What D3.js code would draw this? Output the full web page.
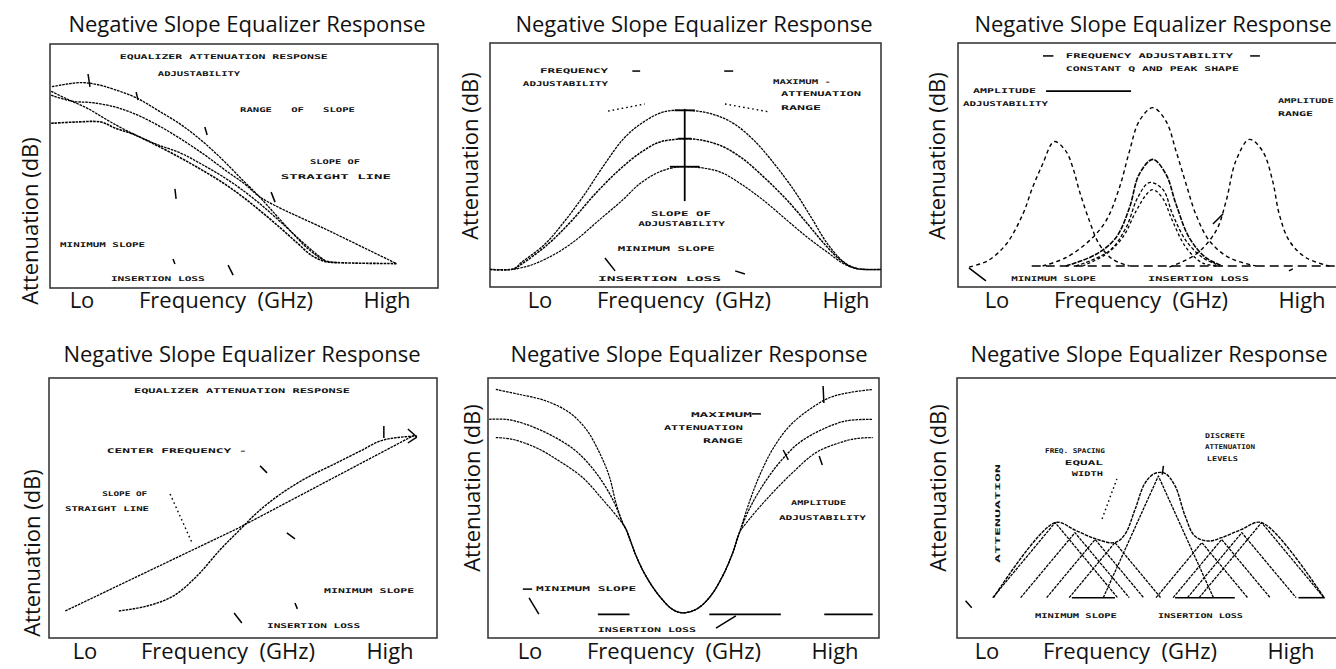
<!DOCTYPE html>
<html>
<head>
<meta charset="utf-8">
<script src="https://cdn.jsdelivr.net/npm/d3@7"></script>
<style>
  html, body { margin: 0; padding: 0; background: #fff; }
  svg { display: block; }
</style>
</head>
<body>
<svg id="chart" width="1336" height="669"></svg>
<script>
// ---------- shared labels ----------
const titleText = "Negative Slope Equalizer Response";
const yAxisText = "Attenuation (dB)";
const xAxisTexts = ["Lo", "Frequency\u00a0 (GHz)", "High"];

// All series use a relative frequency axis (0 = Lo, 100 = High)
// and relative attenuation (0 = bottom of plot, 100 = top).

// ---------- panel 1: sloped responses ----------
const p1CurveA = [[0.5,82.5],[8,84.2],[12.4,83.3],[16.7,81.3],[22.3,77.9],[27.8,72.8],[33.8,66.9],[39,60.5],[44.2,53],[49.3,44.8],[53.6,38],[57.9,30.5],[62.2,23],[66.5,16.1],[70.8,11.3],[74.2,10.4]];
const p1CurveB = [[0.3,79],[5.9,76.5],[10.7,76],[16.7,74.2],[21.8,71.4],[27.8,66.7],[33.8,61],[39.9,54.5],[45,48.5],[50.2,42.6],[54.5,36.9],[72.5,23],[89.3,10]];
const p1CurveC = [[0.3,67.5],[6.4,68],[13.2,68],[16.7,65.6],[21.8,62.8],[27.8,58.2],[33.8,53.2],[39,48.5],[44.2,43.5],[49.3,37.8],[54.5,31.2],[59.6,24.3],[63.9,18.2],[67.4,13.4],[70.8,10.9],[74.2,10.4],[89.3,10]];
const p1CurveD = [[0.3,80.6],[4.6,77.3],[9.8,73.5],[14.9,68.7],[20.1,64.2],[27,59.2],[33.8,55.2],[39,50.8],[44.2,46],[49.3,40.5],[54.5,34],[59.6,26.8],[64.8,19.2],[68.2,14.5],[70.8,11.3]];
const p1Notes = [
  ["EQUALIZER ATTENUATION RESPONSE", 18.0, 71.6, 93.9],
  ["ADJUSTABILITY", 27.8, 49.0, 86.9],
  ["RANGE   OF   SLOPE", 49.0, 78.6, 72.1],
  ["SLOPE OF", 67.0, 79.9, 50.8],
  ["STRAIGHT LINE", 59.5, 87.9, 44.7],
  ["MINIMUM SLOPE", 2.6, 24.5, 16.8],
  ["INSERTION LOSS", 15.7, 39.9, 2.8]
];
const p1Leaders = [[9.8,87.7,10.3,82.4],[22.2,80.3,22.7,77.0],[39.9,66.0,40.5,62.7],[32.2,40.6,32.5,36.5],[57.0,39.3,58.0,35.2],[45.9,9.4,47.2,5.3],[31.7,11.9,32.2,9.8]];

// ---------- panel 2: peaking responses ----------
const p2Top = [[0,7.2],[6,7.4],[8,10],[14,17.5],[19.1,27],[24.2,38],[29.3,50.3],[34.4,61.2],[39.6,68],[44.7,71.9],[49.8,72.4],[54,71.9],[58.3,70.1],[62.6,66.7],[67.7,59.8],[72.8,50.3],[77.9,39.3],[82.2,28.4],[86.4,17.5],[90.7,10],[94.1,7.5],[100,7.2]];
const p2Mid = [[0,7.2],[6,7.4],[8,9.3],[14.8,17.5],[20.8,27],[26.8,38],[32.7,47.5],[37.9,54.4],[43,59.2],[47.2,60.5],[49.8,60.8],[54,60.2],[59.2,57.8],[64.3,53],[70.2,44.8],[76.2,35.2],[81.3,25.7],[85.6,17.5],[89.9,10.7],[93.3,7.7],[100,7.2]];
const p2Low = [[6,7.2],[10.6,9],[16.5,13.4],[21.7,18.9],[27.6,27],[33.6,35.2],[38.7,42.8],[43.8,47.5],[48.1,49.2],[49.8,49.3],[54,48.9],[59.2,46.9],[64.3,42.1],[70.2,35.2],[76.2,27],[81.3,20.2],[86.4,14.1],[90.7,9.3],[94.1,7.4]];
const p2Marker = { x: 49.8, top: 73, bottom: 35.2, bars: [[72.4, 2.6], [60.8, 1.7], [49.3, 3.8]] };
const p2Notes = [
  ["FREQUENCY", 12.8, 30.2, 87.7],
  ["ADJUSTABILITY", 8.4, 30.2, 82.4],
  ["MAXIMUM -", 72.4, 87.2, 83.2],
  ["ATTENUATION", 74.4, 94.9, 78.3],
  ["RANGE", 74.4, 84.7, 72.5],
  ["SLOPE OF", 41.2, 56.5, 29.1],
  ["ADJUSTABILITY", 37.9, 60.1, 25.0],
  ["MINIMUM SLOPE", 32.7, 57.5, 14.8],
  ["INSERTION LOSS", 27.6, 59.1, 2.4]
];
const p2Leaders = [[36.4,88.5,38.4,88.5],[59.9,88.5,62.2,88.5],[29.4,11.9,32.0,6.6],[62.7,6.6,65.2,5.3]];
const p2Guides = [[30.2,72.1,39.6,75.0],[60.1,75.0,71.6,71.7]];

// ---------- panel 3: band responses ----------
const p3Left = [[2.9,8.2],[7.6,10.7],[12.4,17.5],[16.7,29.8],[19.2,40.7],[21.8,50.3],[24.8,59.6],[27.8,55.7],[29.6,48.9],[31.3,39.3],[33.9,27],[36.4,17.5],[39.9,11.3],[44.2,8.6]];
const p3Center = [[21.8,8.6],[27.8,12],[33.8,18.9],[38.1,27],[41.6,40.7],[44.2,55.7],[46.7,68],[50.2,73.5],[53.6,68],[56.2,55.7],[58.8,42.1],[61.3,29.8],[64.8,18.9],[69.9,12],[76.8,8.6]];
const p3Right = [[54.5,8.2],[61.3,13.4],[66.5,23],[69.1,35.2],[71.6,51.6],[75.1,60.5],[78.5,55.7],[81.1,43.4],[82.8,29.8],[85.4,18.9],[89.7,12],[95.7,8.6]];
const p3InnerA = [[27.8,8.6],[35.6,13.4],[40.7,20.2],[44.2,32.5],[46.7,46.2],[50.2,52.3],[53.6,46.2],[56.2,33.9],[59.6,20.2],[63.9,12],[68.2,8.6]];
const p3InnerB = [[30.4,8.6],[39,14.8],[43.3,24.3],[46.3,36.6],[49.3,42.8],[52.8,40],[55.3,29.8],[58.8,18.9],[63.1,12],[66.5,9.3]];
const p3InnerC = [[32.1,8.6],[38.1,13.4],[42.4,20.2],[45.9,31.1],[48.5,37.8],[50.2,39.9],[52.7,36.5],[55.3,27],[58.8,16.1],[63.1,9.8],[67.4,8.6]];
const p3Notes = [
  ["FREQUENCY ADJUSTABILITY", 27.8, 70.9, 93.9],
  ["CONSTANT Q AND PEAK SHAPE", 27.8, 72.4, 88.5],
  ["AMPLITUDE", 3.9, 20.1, 79.5],
  ["ADJUSTABILITY", 1.3, 23.2, 74.2],
  ["AMPLITUDE -", 82.5, 100, 75.4],
  ["RANGE", 82.5, 91.5, 70.1],
  ["MINIMUM SLOPE", 13.7, 35.6, 2.4],
  ["INSERTION LOSS", 49.0, 75.0, 2.4]
];
const p3Leaders = [[21.9,94.7,24.6,94.7],[75.3,94.7,77.8,94.7],[2.8,7.8,7.2,2.5],[65.7,25.8,68.3,29.9],[85.3,6.6,86.3,7.4]];
const p3Rule = [[22.7,80.3,44.6,80.3]];
const p3Baseline = [[19,8.6,100,8.6]];

// ---------- panel 4: positive slope ----------
const p4Straight = [[4.2,10.4],[48.7,42.2],[94.0,77.9]];
const p4Curve = [[18,10.4],[25.3,12.3],[32.1,16.2],[38.1,23.8],[44.2,34.1],[49.3,41.8],[53.6,48.2],[59.6,55.3],[66.5,61.7],[73.4,66.8],[80.2,71.9],[85.4,75.8],[89.7,77.1],[94.8,77.7]];
const p4Notes = [
  ["EQUALIZER ATTENUATION RESPONSE", 21.9, 77.6, 94.2],
  ["CENTER FREQUENCY -", 14.9, 51.0, 71.2],
  ["SLOPE OF", 13.7, 25.3, 54.6],
  ["STRAIGHT LINE", 4.1, 25.8, 48.8],
  ["MINIMUM SLOPE", 70.9, 94.1, 17.3],
  ["INSERTION LOSS", 56.2, 80.2, 3.8]
];
const p4Leaders = [[54.4,66.2,56.2,63.5],[61.3,40.4,63.4,38.1],[47.7,9.6,49.7,5.8],[86.3,81.5,86.3,76.9],[92.5,80.4,94.8,77.3],[94.8,77.3,92.5,75.0],[63.4,13.5,64.0,11.2]];
const p4Guides = [[31.2,55.4,36.9,36.5]];

// ---------- panel 5: notch responses ----------
const p5Top = [[2,95.6],[8,93.7],[14.8,91.2],[20.8,86.7],[25.1,80.3],[28.5,71.3],[31,62.3],[32.7,52.1],[34.4,44.4],[35.3,41.8],[37.9,31.5],[40.4,23.8],[43.8,16.2],[47.2,11],[49.8,9.7],[53.2,11],[56.6,15.5],[60,23.8],[62.6,32.8],[64.3,40.5],[66.8,52.1],[69.4,62.3],[72.8,72.6],[77.1,81.5],[82.2,87.9],[87.3,92.4],[92.4,94.4],[98.4,95.6]];
const p5Mid = [[0.3,84.1],[4.6,84.1],[9.7,82.2],[16.5,77.7],[22.5,71.9],[27.6,63.6],[31.9,53.3],[34.4,44.4],[35.3,41.8],[37.9,31.5],[40.4,23.8],[43.8,16.2],[47.2,11],[49.8,9.7],[53.2,11],[56.6,15.5],[60,23.8],[62.6,32.8],[64.3,40.5],[66.8,49.5],[70.2,58.5],[74.5,67.4],[79.6,75.1],[85.6,80.3],[91.6,83.5],[98.4,84.1]];
const p5Low = [[2,77.1],[6.3,76.4],[12.3,73.2],[18.2,68.1],[24.2,61.7],[29.3,53.3],[33.6,45.6],[35.3,41.8],[37.9,31.5],[40.4,23.8],[43.8,16.2],[47.2,11],[49.8,9.7],[53.2,11],[56.6,15.5],[60,23.8],[62.6,32.8],[64.3,40.5],[66.8,45.6],[72,54.6],[77.9,63.6],[83.9,71.3],[89.9,75.1],[94.1,76.7],[98.4,77.1]];
const p5Notes = [
  ["MAXIMUM", 51.9, 67.5, 85.0],
  ["ATTENUATION", 45.0, 65.2, 80.0],
  ["RANGE", 55.0, 65.2, 75.0],
  ["AMPLITUDE", 77.5, 91.6, 51.2],
  ["ADJUSTABILITY", 74.4, 96.7, 45.4],
  ["MINIMUM SLOPE", 12.3, 37.9, 18.1],
  ["INSERTION LOSS", 28.1, 53.2, 2.4]
];
const p5Leaders = [[67.5,86.2,69.8,86.2],[8.9,18.8,11.3,18.8],[85.7,96.9,85.9,90.4],[75.5,72.3,76.8,68.5],[84.7,70.0,85.5,66.5],[10.5,15.4,13.0,9.2],[58.3,3.8,63.4,8.5]];
const p5Baseline = [[28.1,9.1,36.2,9.1],[56.6,9.1,74.9,9.1],[86.0,9.1,98.4,9.1]];

// ---------- panel 6: discrete sections ----------
// each section: [left foot, peak frequency, peak level, right foot]
const p6Sections = [
  [9.2, 25.3, 44.4, 41.4],
  [16.4, 30.4, 40.5, 44.4],
  [23.1, 35.6, 37.9, 48.1],
  [28.9, 40.7, 36.7, 52.5],
  [37.7, 51.9, 62.3, 66.1],
  [51.3, 63.1, 36.7, 74.9],
  [55.7, 68.2, 37.9, 80.7],
  [59.4, 73.4, 40.5, 87.4],
  [62.4, 78.5, 44.4, 94.6]
];
const p6Floor = 15.5;
const p6Envelope = [[9.4,15.5],[25.3,44.4],[30.4,41.5],[35.6,38.2],[40.7,36.7],[43.3,39.9],[45.9,49.5],[48.5,59.7],[51,63.3],[53.6,63.3],[56.2,58.5],[58.8,46.9],[61.3,39.2],[64.8,37.3],[68.2,38.6],[73.4,41.8],[78.5,44.4],[94.6,15.5]];
const p6Notes = [
  ["FREQ. SPACING", 22.7, 38.1, 71.2],
  ["EQUAL", 27.8, 37.6, 66.5],
  ["WIDTH", 29.6, 37.6, 62.3],
  ["DISCRETE", 63.9, 74.2, 76.9],
  ["ATTENUATION", 63.9, 76.8, 72.7],
  ["LEVELS", 64.4, 72.4, 68.1],
  ["MINIMUM SLOPE", 20.1, 41.2, 7.7],
  ["INSERTION LOSS", 51.8, 73.7, 7.7]
];
const p6SideNote = ["ATTENUATION", 10.6, 28.8, 66.9];
const p6Leaders = [[53.2,66.2,52.9,62.8],[2.2,14.3,3.8,11.6]];
const p6Guides = [[37.4,45.8,41.2,61.2]];
const p6Baseline = [[29.6,15.5,40.7,15.5],[56.2,15.5,71.6,15.5],[88.0,15.5,94.8,15.5]];

// ---------- page layout ----------
const layout = [
  { frame: { x: 50,  y: 44,  w: 388, h: 244 }, titleX: 247,  titleY: 32,  yLabX: 30,  yLabY: 221, xLabs: [82, 226, 387],   xLabY: 308 },
  { frame: { x: 490, y: 43,  w: 391, h: 244 }, titleX: 694,  titleY: 32,  yLabX: 470, yLabY: 156, xLabs: [540, 684, 846],  xLabY: 308 },
  { frame: { x: 958, y: 43,  w: 388, h: 244 }, titleX: 1153, titleY: 32,  yLabX: 937, yLabY: 156, xLabs: [997, 1141, 1302], xLabY: 308 },
  { frame: { x: 49,  y: 378, w: 388, h: 260 }, titleX: 242,  titleY: 362, yLabX: 32,  yLabY: 553, xLabs: [85, 228, 390],   xLabY: 659 },
  { frame: { x: 488, y: 378, w: 391, h: 260 }, titleX: 689,  titleY: 362, yLabX: 472, yLabY: 488, xLabs: [530, 674, 835],  xLabY: 659 },
  { frame: { x: 957, y: 378, w: 388, h: 260 }, titleX: 1149, titleY: 362, yLabX: 938, yLabY: 488, xLabs: [987, 1130, 1291], xLabY: 659 }
];

const STIPPLE = "2.6,0.9";
const DASHED = "4,3.2";

const panels = [
  { curves: [
      { d: p1CurveA, dash: STIPPLE, w: 1.3 },
      { d: p1CurveB, dash: STIPPLE, w: 1.3 },
      { d: p1CurveD, dash: STIPPLE, w: 1.3 },
      { d: p1CurveC, dash: STIPPLE, w: 1.6 }
    ], notes: p1Notes, leaders: p1Leaders },
  { curves: [
      { d: p2Top, dash: STIPPLE, w: 1.3 },
      { d: p2Mid, dash: STIPPLE, w: 1.5 },
      { d: p2Low, dash: STIPPLE, w: 1.2 }
    ], notes: p2Notes, leaders: p2Leaders, guides: p2Guides, marker: p2Marker },
  { curves: [
      { d: p3Left, dash: DASHED, w: 1.4 },
      { d: p3Center, dash: DASHED, w: 1.4 },
      { d: p3Right, dash: DASHED, w: 1.4 },
      { d: p3InnerA, dash: "5,1.2", w: 1.6 },
      { d: p3InnerB, dash: "3.5,2", w: 1.3 },
      { d: p3InnerC, dash: "3,2.5", w: 1.3 }
    ], notes: p3Notes, leaders: p3Leaders, rules: p3Rule, base: p3Baseline, baseDash: "9,5" },
  { curves: [
      { d: p4Straight, dash: STIPPLE, w: 1.3, linear: true },
      { d: p4Curve, dash: STIPPLE, w: 1.4 }
    ], notes: p4Notes, leaders: p4Leaders, guides: p4Guides },
  { curves: [
      { d: p5Top, dash: STIPPLE, w: 1.2 },
      { d: p5Mid, dash: STIPPLE, w: 1.3 },
      { d: p5Low, dash: STIPPLE, w: 1.2 }
    ], notes: p5Notes, leaders: p5Leaders, base: p5Baseline },
  { curves: p6Sections.map(s => ({ d: [[s[0], p6Floor], [s[1], s[2]], [s[3], p6Floor]], dash: "3,1", w: 1.3, linear: true }))
      .concat([{ d: p6Envelope, dash: "3.5,1", w: 1.4 }]),
    notes: p6Notes, side: p6SideNote, leaders: p6Leaders, guides: p6Guides, base: p6Baseline }
];

const svg = d3.select("#chart");
const LABEL_FONT = "'Open Sans', 'Noto Sans', sans-serif";
const LABEL_SIZE = 22;
const NOTE_FONT = "'DejaVu Sans Mono', monospace";

panels.forEach((p, i) => {
  const L = layout[i];
  const f = L.frame;
  const x = d3.scaleLinear().domain([0, 100]).range([f.x, f.x + f.w]);
  const y = d3.scaleLinear().domain([0, 100]).range([f.y + f.h, f.y]);
  const g = svg.append("g");

  // title and axis captions
  g.append("text").attr("x", L.titleX).attr("y", L.titleY)
    .attr("text-anchor", "middle").attr("font-family", LABEL_FONT)
    .attr("font-size", LABEL_SIZE).attr("fill", "#111").text(titleText);
  g.append("text").attr("transform", `translate(${L.yLabX},${L.yLabY}) rotate(-90)`)
    .attr("text-anchor", "middle").attr("dy", "0.35em").attr("font-family", LABEL_FONT)
    .attr("font-size", LABEL_SIZE).attr("fill", "#111").text(yAxisText);
  xAxisTexts.forEach((t, k) => {
    g.append("text").attr("x", L.xLabs[k]).attr("y", L.xLabY)
      .attr("text-anchor", "middle").attr("font-family", LABEL_FONT)
      .attr("font-size", LABEL_SIZE).attr("fill", "#111")
      .style("white-space", "pre").text(t);
  });

  // plot frame
  g.append("rect").attr("x", f.x).attr("y", f.y).attr("width", f.w).attr("height", f.h)
    .attr("fill", "#fff").attr("stroke", "#3a3a3a").attr("stroke-width", 1.6);

  const plot = g.append("g");

  // baselines
  (p.base || []).forEach(s => {
    plot.append("line").attr("x1", x(s[0])).attr("y1", y(s[1])).attr("x2", x(s[2])).attr("y2", y(s[3]))
      .attr("stroke", "#000").attr("stroke-width", 1.6)
      .attr("stroke-dasharray", p.baseDash || null);
  });

  // response curves
  p.curves.forEach(c => {
    const line = d3.line().x(d => x(d[0])).y(d => y(d[1]))
      .curve(c.linear ? d3.curveLinear : d3.curveCatmullRom.alpha(0.5));
    plot.append("path").attr("d", line(c.d)).attr("fill", "none")
      .attr("stroke", "#000").attr("stroke-width", c.w)
      .attr("stroke-dasharray", c.dash).attr("stroke-linejoin", "round");
  });

  // solid rules
  (p.rules || []).forEach(s => {
    plot.append("line").attr("x1", x(s[0])).attr("y1", y(s[1])).attr("x2", x(s[2])).attr("y2", y(s[3]))
      .attr("stroke", "#000").attr("stroke-width", 1.8);
  });

  // short leader strokes
  (p.leaders || []).forEach(s => {
    plot.append("line").attr("x1", x(s[0])).attr("y1", y(s[1])).attr("x2", x(s[2])).attr("y2", y(s[3]))
      .attr("stroke", "#000").attr("stroke-width", 1.5);
  });

  // dotted guide lines
  (p.guides || []).forEach(s => {
    plot.append("line").attr("x1", x(s[0])).attr("y1", y(s[1])).attr("x2", x(s[2])).attr("y2", y(s[3]))
      .attr("stroke", "#000").attr("stroke-width", 1.4).attr("stroke-dasharray", "1.6,3");
  });

  // peak marker with adjustment bars
  if (p.marker) {
    const m = p.marker;
    plot.append("line").attr("x1", x(m.x)).attr("x2", x(m.x)).attr("y1", y(m.top)).attr("y2", y(m.bottom))
      .attr("stroke", "#000").attr("stroke-width", 1.8);
    m.bars.forEach(b => {
      plot.append("line").attr("x1", x(m.x - b[1])).attr("x2", x(m.x + b[1]))
        .attr("y1", y(b[0])).attr("y2", y(b[0])).attr("stroke", "#000").attr("stroke-width", 1.8);
    });
  }

  // annotation text
  p.notes.forEach(n => {
    plot.append("text").attr("x", x(n[1])).attr("y", y(n[3]))
      .attr("font-family", NOTE_FONT).attr("font-weight", "bold").attr("font-size", 6.5)
      .attr("fill", "#111").attr("textLength", x(n[2]) - x(n[1]))
      .attr("lengthAdjust", "spacingAndGlyphs").style("white-space", "pre").text(n[0]);
  });
  if (p.side) {
    const s = p.side;
    plot.append("text")
      .attr("transform", `translate(${x(s[1])},${(y(s[2]) + y(s[3])) / 2}) rotate(-90)`)
      .attr("text-anchor", "middle").attr("dy", "0.35em")
      .attr("font-family", NOTE_FONT).attr("font-weight", "bold").attr("font-size", 6.5)
      .attr("fill", "#111").attr("textLength", y(s[2]) - y(s[3]))
      .attr("lengthAdjust", "spacingAndGlyphs").text(s[0]);
  }
});
</script>
</body>
</html>
